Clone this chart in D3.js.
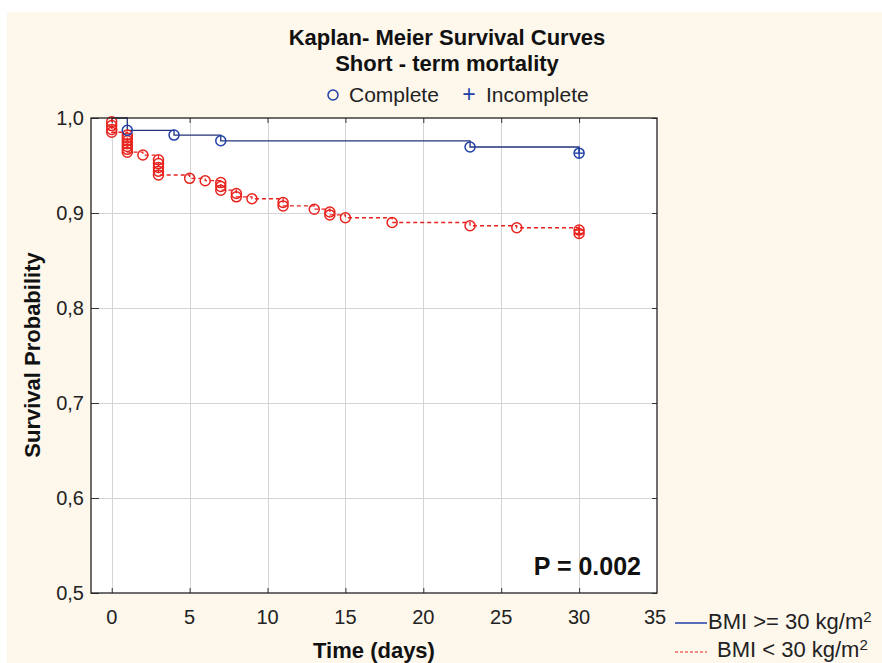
<!DOCTYPE html>
<html>
<head>
<meta charset="utf-8">
<script src="https://cdn.jsdelivr.net/npm/d3@7"></script>
<style>
  html, body { margin: 0; padding: 0; background: #ffffff; }
  svg { display: block; }
  text { font-family: Arial, "Liberation Sans", Helvetica, sans-serif; }
</style>
</head>
<body>
<script>
// ---------- data ----------
const xTicks = [0, 5, 10, 15, 20, 25, 30, 35];
const yTicks = [0.5, 0.6, 0.7, 0.8, 0.9, 1.0];
const yTickLabels = ["0,5", "0,6", "0,7", "0,8", "0,9", "1,0"];

// BMI >= 30 (blue, solid)
const blueTimes = [1, 4, 7, 23, 30];
const blueSurv = [0.987, 0.982, 0.976, 0.9695, 0.963];
const blueCensored = [false, false, false, false, true];

// BMI < 30 (red, dashed) : one marker per event
const redTimes = [0, 0, 0, 0, 1, 1, 1, 1, 1, 1, 1, 2, 3, 3, 3, 3, 3, 5, 6, 7, 7, 7, 8, 8, 9, 11, 11, 13, 14, 14, 15, 18, 23, 26, 30, 30];
const redSurv = [0.996, 0.992, 0.988, 0.985, 0.982, 0.979, 0.976, 0.973, 0.970, 0.967, 0.964, 0.961, 0.956, 0.952, 0.948, 0.944, 0.940, 0.9365, 0.934, 0.932, 0.928, 0.924, 0.9205, 0.917, 0.915, 0.911, 0.9075, 0.904, 0.901, 0.898, 0.895, 0.890, 0.8866, 0.8845, 0.882, 0.8785];
const redCensored = redTimes.map((t, i) => i >= redTimes.length - 2);

const titleLines = ["Kaplan- Meier Survival Curves", "Short - term mortality"];
const seriesNames = ["BMI >= 30 kg/m", "BMI < 30 kg/m"];
const pText = "P = 0.002";

// ---------- layout ----------
const W = 882, H = 663;
const plot = { left: 91, right: 657, top: 118, bottom: 593 };
const blue = "#1f3fa8", red = "#e8231e";

const svg = d3.select("body").append("svg").attr("width", W).attr("height", H);
svg.append("rect").attr("x", 7).attr("y", 12).attr("width", W - 7).attr("height", H - 12).attr("fill", "#fdf7ec");

const x = d3.scaleLinear().domain([-1.33, 35]).range([plot.left, plot.right]);
const y = d3.scaleLinear().domain([0.5, 1.0]).range([plot.bottom, plot.top]);

svg.append("rect").attr("x", plot.left).attr("y", plot.top)
  .attr("width", plot.right - plot.left).attr("height", plot.bottom - plot.top)
  .attr("fill", "#ffffff");

// gridlines
const grid = svg.append("g").attr("stroke", "#d4d4d4").attr("stroke-width", 1);
xTicks.filter(t => x(t) < plot.right - 3).forEach(t => {
  grid.append("line").attr("x1", Math.round(x(t)) + 0.5).attr("x2", Math.round(x(t)) + 0.5)
    .attr("y1", plot.top).attr("y2", plot.bottom);
});
yTicks.filter(t => t > 0.5 && t < 1.0).forEach(t => {
  grid.append("line").attr("y1", Math.round(y(t)) + 0.5).attr("y2", Math.round(y(t)) + 0.5)
    .attr("x1", plot.left).attr("x2", plot.right);
});

// axes (ticks drawn inward)
const axL = svg.append("g").attr("transform", `translate(${plot.left},0)`)
  .call(d3.axisRight(y).tickValues(yTicks).tickSize(8).tickFormat(""));
const axR = svg.append("g").attr("transform", `translate(${plot.right},0)`)
  .call(d3.axisLeft(y).tickValues(yTicks).tickSize(5).tickFormat(""));
const xIn = xTicks.filter(t => x(t) < plot.right - 3);
const axB = svg.append("g").attr("transform", `translate(0,${plot.bottom})`)
  .call(d3.axisTop(x).tickValues(xIn).tickSize(5).tickFormat(""));
const axT = svg.append("g").attr("transform", `translate(0,${plot.top})`)
  .call(d3.axisBottom(x).tickValues(xIn).tickSize(5).tickFormat(""));
[axL, axR, axB, axT].forEach(a => {
  a.select(".domain").remove();
  a.selectAll("line").attr("stroke", "#333");
});

// tick labels
const yLab = svg.append("g");
yTicks.forEach((t, i) => {
  yLab.append("text").attr("x", 84).attr("y", y(t) + 7).attr("text-anchor", "end")
    .attr("font-size", 20).attr("fill", "#222").text(yTickLabels[i]);
});
const xLab = svg.append("g");
xTicks.forEach(t => {
  const px = t === 35 ? 655 : x(t);
  xLab.append("text").attr("x", px).attr("y", 624).attr("text-anchor", "middle")
    .attr("font-size", 20).attr("fill", "#222").text(String(t));
});

// step curves
function stepPoints(times, surv) {
  const pts = [[0, 1.0]];
  const uniq = Array.from(new Set(times));
  uniq.forEach(t => {
    const v = d3.min(surv.filter((s, i) => times[i] === t));
    pts.push([t, v]);
  });
  return pts;
}
const line = d3.line().x(d => x(d[0])).y(d => y(d[1])).curve(d3.curveStepAfter);

const bluePts = stepPoints(blueTimes, blueSurv);
svg.append("path").attr("d", line(bluePts)).attr("fill", "none").attr("stroke", "#24337a").attr("stroke-width", 1.3);

const redPts = stepPoints(redTimes, redSurv);
svg.append("path").attr("d", line(redPts)).attr("fill", "none").attr("stroke", red)
  .attr("stroke-width", 1.3).attr("stroke-dasharray", "4,3");

// markers
function drawMarkers(times, surv, cens, color) {
  const g = svg.append("g");
  times.forEach((t, i) => {
    const cx = x(t), cy = y(surv[i]);
    g.append("circle").attr("cx", cx).attr("cy", cy).attr("r", 5)
      .attr("fill", "none").attr("stroke", color).attr("stroke-width", 1.5);
    if (cens[i]) {
      g.append("line").attr("x1", cx - 5).attr("x2", cx + 5).attr("y1", cy).attr("y2", cy).attr("stroke", color).attr("stroke-width", 1.4);
      g.append("line").attr("x1", cx).attr("x2", cx).attr("y1", cy - 5).attr("y2", cy + 5).attr("stroke", color).attr("stroke-width", 1.4);
    }
  });
}
drawMarkers(redTimes, redSurv, redCensored, red);
drawMarkers(blueTimes, blueSurv, blueCensored, blue);

// frame
svg.append("rect").attr("x", plot.left).attr("y", plot.top)
  .attr("width", plot.right - plot.left).attr("height", plot.bottom - plot.top)
  .attr("fill", "none").attr("stroke", "#222").attr("stroke-width", 1.3);

// titles
titleLines.forEach((s, i) => {
  svg.append("text").attr("x", 447).attr("y", 45 + i * 25.5).attr("text-anchor", "middle")
    .attr("font-size", 22).attr("font-weight", "bold").attr("fill", "#111").text(s);
});

// top legend
const tl = svg.append("g");
tl.append("circle").attr("cx", 333).attr("cy", 95).attr("r", 5).attr("fill", "none").attr("stroke", blue).attr("stroke-width", 1.5);
tl.append("text").attr("x", 349).attr("y", 102).attr("font-size", 21).attr("fill", "#222").text("Complete");
tl.append("text").attr("x", 469).attr("y", 102).attr("text-anchor", "middle").attr("font-size", 23).attr("fill", blue).text("+");
tl.append("text").attr("x", 486).attr("y", 102).attr("font-size", 21).attr("fill", "#222").text("Incomplete");

// axis titles
svg.append("text").attr("x", 374).attr("y", 658).attr("text-anchor", "middle")
  .attr("font-size", 22).attr("font-weight", "bold").attr("fill", "#111").text("Time (days)");
svg.append("text").attr("transform", "translate(40,355) rotate(-90)").attr("text-anchor", "middle")
  .attr("font-size", 22).attr("font-weight", "bold").attr("fill", "#111").text("Survival Probability");

// P value
svg.append("text").attr("x", 641).attr("y", 575).attr("text-anchor", "end")
  .attr("font-size", 25).attr("font-weight", "bold").attr("fill", "#111").text(pText);

// bottom legend
const bl = svg.append("g");
bl.append("line").attr("x1", 675).attr("x2", 707).attr("y1", 623).attr("y2", 623).attr("stroke", blue).attr("stroke-width", 1.5);
const t1 = bl.append("text").attr("x", 708).attr("y", 629).attr("font-size", 22).attr("fill", "#222");
t1.append("tspan").text(seriesNames[0]);
t1.append("tspan").attr("dy", -7).attr("font-size", 15).text("2");
bl.append("line").attr("x1", 675).attr("x2", 707).attr("y1", 652).attr("y2", 652).attr("stroke", red).attr("stroke-width", 1.2).attr("stroke-dasharray", "3,2");
const t2 = bl.append("text").attr("x", 717).attr("y", 657).attr("font-size", 22).attr("fill", "#222");
t2.append("tspan").text(seriesNames[1]);
t2.append("tspan").attr("dy", -7).attr("font-size", 15).text("2");
</script>
</body>
</html>
